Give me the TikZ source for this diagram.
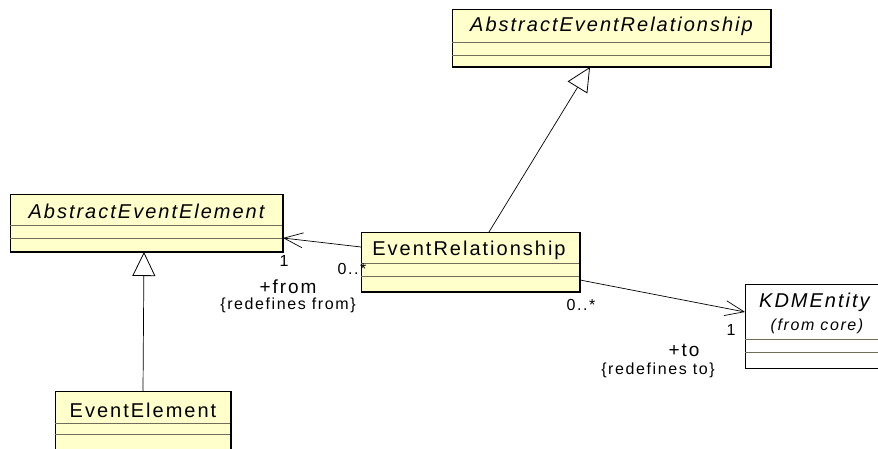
\documentclass[tikz,border=0pt]{standalone}
\usepackage{fontspec}
\setmainfont{Liberation Sans}[LetterSpace=10]
\usetikzlibrary{arrows.meta}
\definecolor{clsfill}{RGB}{255,255,204}
\definecolor{divcol}{RGB}{110,110,90}
\tikzset{
  cls/.style={draw=black, line width=0.9pt, fill=clsfill, rectangle, inner sep=0pt, outer sep=0pt, anchor=north west},
  ext/.style={draw=black, line width=0.9pt, fill=white, rectangle, inner sep=0pt, outer sep=0pt, anchor=north west},
  div/.style={draw=divcol, line width=0.8pt},
  shade/.style={draw=black, line width=1.6pt},
  nm/.style={inner sep=0pt, font=\fontsize{20}{22}\selectfont},
  nmi/.style={nm, font=\fontsize{20}{22}\selectfont\itshape},
  lab/.style={inner sep=0pt, font=\fontsize{16}{18}\selectfont},
  role/.style={inner sep=0pt, font=\fontsize{19}{21}\selectfont},
  cons/.style={inner sep=0pt, font=\fontsize{16}{18}\selectfont},
  gen/.style={draw=black, line width=0.7pt, -{Triangle[fill=white, length=24pt, width=23pt, line width=0.8pt]}},
  assoc/.style={draw=black, line width=0.7pt, -{Straight Barb[length=19pt, width=15pt, line width=0.7pt]}}
}
\begin{document}
\begin{tikzpicture}[x=1pt,y=-1pt]
\useasboundingbox (0,0) rectangle (878,449);
\clip (0,0) rectangle (878,449);

% AbstractEventRelationship
\node[cls, minimum width=319pt, minimum height=58pt] (aer) at (452,9) {};
\draw[div] (452,42) -- (771,42);
\draw[div] (452,55) -- (771,55);
\draw[shade] (452,67) -- (771,67) -- (771,9);
\node[nmi] (aerT) at (611.5,26) {AbstractEventRelationship};

% AbstractEventElement
\node[cls, minimum width=273pt, minimum height=58pt] (aee) at (10,194) {};
\draw[div] (10,225) -- (283,225);
\draw[div] (10,238) -- (283,238);
\draw[shade] (10,252) -- (283,252) -- (283,194);
\node[nmi] (aeeT) at (146.5,211) {AbstractEventElement};

% EventRelationship
\node[cls, minimum width=219pt, minimum height=60pt] (er) at (361,232) {};
\draw[div] (361,263) -- (580,263);
\draw[div] (361,276) -- (580,276);
\draw[shade] (361,292) -- (580,292) -- (580,232);
\node[nm] (erT) at (469,250) {EventRelationship};

% EventElement
\node[cls, minimum width=176pt, minimum height=70pt] (ee) at (55,391) {};
\draw[div] (55,423) -- (231,423);
\draw[div] (55,434) -- (231,434);
\draw[shade] (231,391) -- (231,460);
\node[nm] (eeT) at (143,410) {EventElement};

% KDMEntity
\node[ext, minimum width=150pt, minimum height=84pt] (kdm) at (745,284) {};
\draw[div] (745,339) -- (895,339);
\draw[div] (745,352) -- (895,352);
\node[nmi, anchor=west] (kdmT) at (759,302) {KDMEntity};
\node[cons, font=\fontsize{16}{18}\selectfont\itshape] (kdmF) at (817,326) {(from core)};

% connector end points
\coordinate (erTop) at (489,232);
\coordinate (aerBot) at (590,67);
\coordinate (eeTop) at (143,391);
\coordinate (aeeBot) at (144,252);
\coordinate (erLeft) at (361,247);
\coordinate (aeeRight) at (283,238);
\coordinate (erRight) at (580,280);
\coordinate (kdmLeft) at (745,312);

\draw[gen] (erTop) -- (aerBot);
\draw[gen] (eeTop) -- (aeeBot);
\draw[assoc] (erLeft) -- (aeeRight);
\draw[assoc] (erRight) -- (kdmLeft);

% labels
\node[lab] (l1) at (284,261) {1};
\node[lab] (l2) at (352,269) {0..*};
\node[role] (l3) at (288,287) {+from};
\node[cons] (l4) at (288,305) {\{redefines from\}};
\node[lab] (l5) at (581,305) {0..*};
\node[lab] (l6) at (731,330) {1};
\node[role] (l7) at (684,350) {+to};
\node[cons] (l8) at (658,370) {\{redefines to\}};
\end{tikzpicture}
\end{document}
